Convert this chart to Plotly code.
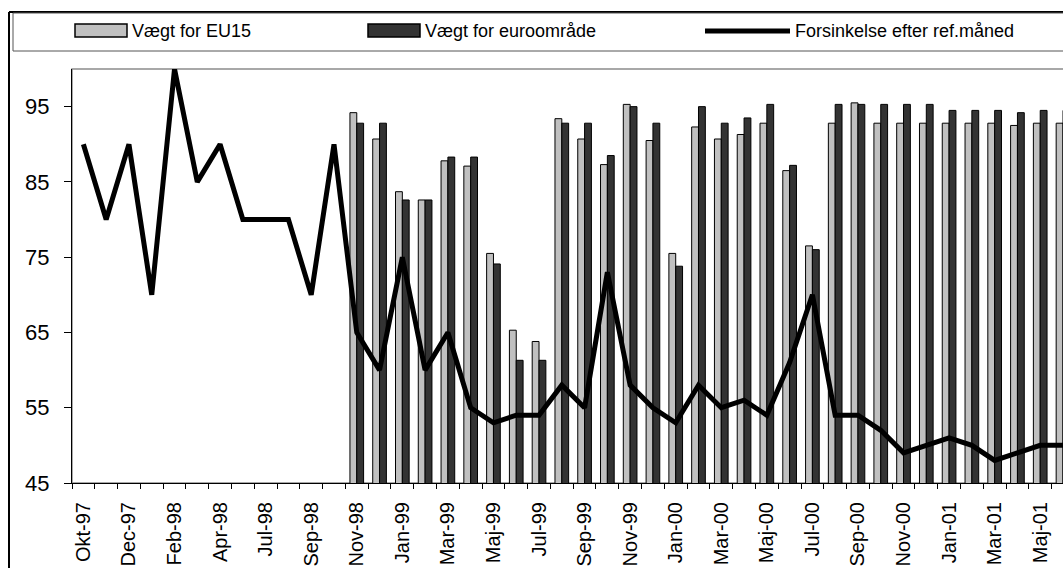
"""
Vægte og forsinkelse efter referencemåned, Okt-97 til Jun-01.
"""

import plotly.graph_objects as go

W, H = 1063, 568
L, R, T, B = 72, 0, 69, 85

months = [
    "Okt-97", "Nov-97", "Dec-97", "Jan-98", "Feb-98", "Mar-98", "Apr-98", "Jun-98",
    "Jul-98", "Aug-98", "Sep-98", "Okt-98", "Nov-98", "Dec-98", "Jan-99", "Feb-99",
    "Mar-99", "Apr-99", "Maj-99", "Jun-99", "Jul-99", "Aug-99", "Sep-99", "Okt-99",
    "Nov-99", "Dec-99", "Jan-00", "Feb-00", "Mar-00", "Apr-00", "Maj-00", "Jun-00",
    "Jul-00", "Aug-00", "Sep-00", "Okt-00", "Nov-00", "Dec-00", "Jan-01", "Feb-01",
    "Mar-01", "Apr-01", "Maj-01", "Jun-01",
]

vaegt_eu15 = [None] * 12 + [
    94.2, 90.7, 83.7, 82.6, 87.8, 87.1, 75.5, 65.3, 63.8, 93.4, 90.7, 87.3,
    95.3, 90.5, 75.5, 92.3, 90.7, 91.3, 92.8, 86.5, 76.5, 92.8, 95.5, 92.8,
    92.8, 92.8, 92.8, 92.8, 92.8, 92.5, 92.8, 92.8,
]

vaegt_euro = [None] * 12 + [
    92.8, 92.8, 82.6, 82.6, 88.3, 88.3, 74.1, 61.3, 61.3, 92.8, 92.8, 88.5,
    95.0, 92.8, 73.8, 95.0, 92.8, 93.5, 95.3, 87.2, 76.0, 95.3, 95.3, 95.3,
    95.3, 95.3, 94.5, 94.5, 94.5, 94.2, 94.5, 94.5,
]

forsinkelse = [
    90, 80, 90, 70, 100, 85, 90, 80, 80, 80, 70, 90,
    65, 60, 75, 60, 65, 55, 53, 54, 54, 58, 55, 73,
    58, 55, 53, 58, 55, 56, 54, 61, 70, 54, 54, 52,
    49, 50, 51, 50, 48, 49, 50, 50,
]

y_ticks = [45, 55, 65, 75, 85, 95]

FONT = "Liberation Sans, Arial, sans-serif"
LIGHT = "#C0C0C0"
DARK = "#333333"


def px(x):
    """pixel x -> paper x"""
    return (x - L) / (W - L - R)


def py(y):
    """pixel y (from top) -> paper y"""
    return (H - B - y) / (H - T - B)


idx = list(range(len(months)))

fig = go.Figure()
fig.add_trace(
    go.Bar(
        x=idx, y=vaegt_eu15, name="Vægt for EU15",
        marker={"color": LIGHT, "line": {"color": "black", "width": 1}},
        showlegend=False,
    )
)
fig.add_trace(
    go.Bar(
        x=idx, y=vaegt_euro, name="Vægt for euroområde",
        marker={"color": DARK, "line": {"color": "black", "width": 1}},
        showlegend=False,
    )
)
fig.add_trace(
    go.Scatter(
        x=idx, y=forsinkelse, name="Forsinkelse efter ref.måned",
        mode="lines", line={"color": "black", "width": 5},
        showlegend=False,
    )
)

shapes = [
    # plot area frame (grey), axes drawn on top in black
    dict(type="rect", xref="paper", yref="paper", x0=0, x1=1.05, y0=0, y1=1,
         line={"color": "#8c8c8c", "width": 1.5}, layer="below"),
    # outer chart border
    dict(type="line", xref="paper", yref="paper", x0=px(9), x1=px(9), y0=py(12), y1=py(H + 5),
         line={"color": "black", "width": 2}),
    dict(type="line", xref="paper", yref="paper", x0=px(9), x1=px(W + 5), y0=py(12), y1=py(12),
         line={"color": "black", "width": 2}),
    # legend box
    dict(type="rect", xref="paper", yref="paper", x0=px(13), x1=px(W + 5), y0=py(51), y1=py(13),
         line={"color": "#555555", "width": 1}),
    # legend symbols
    dict(type="rect", xref="paper", yref="paper", x0=px(75), x1=px(127), y0=py(37), y1=py(24),
         fillcolor=LIGHT, line={"color": "black", "width": 1.5}),
    dict(type="rect", xref="paper", yref="paper", x0=px(368), x1=px(420), y0=py(37), y1=py(24),
         fillcolor=DARK, line={"color": "black", "width": 1.5}),
    dict(type="line", xref="paper", yref="paper", x0=px(705), x1=px(790), y0=py(31), y1=py(31),
         line={"color": "black", "width": 5}),
]

legend_text = [("Vægt for EU15", 130), ("Vægt for euroområde", 423),
               ("Forsinkelse efter ref.måned", 793)]
annotations = [
    dict(text=t, xref="paper", yref="paper", x=px(x0), y=py(31), xanchor="left",
         yanchor="middle", showarrow=False, font={"size": 18, "color": "black"})
    for t, x0 in legend_text
]

fig.update_layout(
    width=W, height=H,
    margin={"l": L, "r": R, "t": T, "b": B, "pad": 0},
    paper_bgcolor="white", plot_bgcolor="white",
    font={"family": FONT, "color": "black"},
    barmode="group", bargap=0.4, bargroupgap=0,
    shapes=shapes, annotations=annotations,
    showlegend=False,
)
fig.update_xaxes(
    range=[-0.5, 43.0],
    tickmode="array", tickvals=idx[::2], ticktext=months[::2],
    tickangle=-90, tickfont={"size": 20},
    ticks="", ticklabelstandoff=10,
    minor={"tickmode": "linear", "tick0": -0.5, "dtick": 1, "ticks": "outside",
           "ticklen": 5, "tickcolor": "black", "tickwidth": 1},
    showline=True, linecolor="black", linewidth=1,
    showgrid=False, zeroline=False,
)
fig.update_yaxes(
    range=[45, 100],
    tickmode="array", tickvals=y_ticks,
    ticks="outside", ticklen=7, tickcolor="black", tickwidth=1,
    tickfont={"size": 22}, ticklabelstandoff=10,
    showline=True, linecolor="black", linewidth=1,
    showgrid=False, zeroline=False,
)

# page margin off so the figure sits at the top-left corner of the window
fig.write_html(
    "out.html",
    config={"displayModeBar": False},
    post_script="document.body.style.margin = '0';",
)
